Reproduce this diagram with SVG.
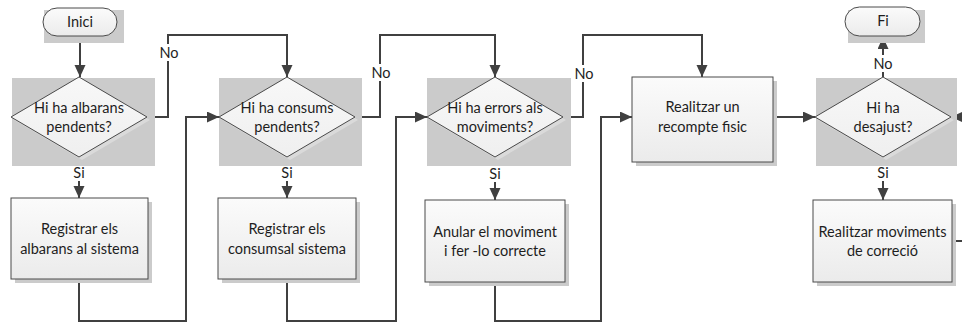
<svg xmlns="http://www.w3.org/2000/svg" width="962" height="323" viewBox="0 0 962 323">
  <defs>
    <linearGradient id="boxFill" x1="0" y1="0" x2="0" y2="1">
      <stop offset="0" stop-color="#fbfbfb"/>
      <stop offset="1" stop-color="#ebebeb"/>
    </linearGradient>
    <linearGradient id="decFill" x1="0" y1="0" x2="0" y2="1">
      <stop offset="0" stop-color="#f8f8f8"/>
      <stop offset="1" stop-color="#efefef"/>
    </linearGradient>
    <marker id="arrow" markerUnits="userSpaceOnUse" markerWidth="13" markerHeight="12" refX="12" refY="5.5" orient="auto">
      <path d="M0,0 L12,5.5 L0,11 Z" fill="#404040"/>
    </marker>
  </defs>
  <style>
    .shade { fill: #cbcbcb; }
    .dshade { fill: #dadada; }
    .box { fill: url(#boxFill); stroke: #4a4a4a; stroke-width: 1; }
    .dec { fill: url(#decFill); stroke: #4a4a4a; stroke-width: 1; }
    .term { fill: url(#boxFill); stroke: #4a4a4a; stroke-width: 1; }
    text { font-family: Lato, "Liberation Sans", sans-serif; font-size: 14.5px; fill: #1e1e1e; text-anchor: middle; }
    .conn { fill: none; stroke: #404040; stroke-width: 2; }
    .tag { fill: #ffffff; }
  </style>

  <rect width="962" height="323" fill="#ffffff"/>

  <!-- flow connectors -->
  <g id="connectors">
    <path class="conn" d="M80 36 V77" marker-end="url(#arrow)"/>
    <path class="conn" d="M147 117 H168 V35 H287 V77" marker-end="url(#arrow)"/>
    <path class="conn" d="M79 157 V198" marker-end="url(#arrow)"/>
    <path class="conn" d="M79 279 V321 H186 V117 H219" marker-end="url(#arrow)"/>
    <path class="conn" d="M355 117 H380 V35 H495 V77" marker-end="url(#arrow)"/>
    <path class="conn" d="M287 157 V198" marker-end="url(#arrow)"/>
    <path class="conn" d="M287 279 V321 H396 V117 H427" marker-end="url(#arrow)"/>
    <path class="conn" d="M563 117 H583 V35 H702 V77" marker-end="url(#arrow)"/>
    <path class="conn" d="M495 157 V200" marker-end="url(#arrow)"/>
    <path class="conn" d="M495 282 V321 H601 V117 H632" marker-end="url(#arrow)"/>
    <path class="conn" d="M773 117 H815" marker-end="url(#arrow)"/>
    <path class="conn" d="M883 77 V37" marker-end="url(#arrow)"/>
    <path class="conn" d="M883 157 V200" marker-end="url(#arrow)"/>
    <path class="conn" d="M952 241 H975 V117 H951" marker-end="url(#arrow)"/>

    <!-- branch labels -->
    <rect class="tag" x="158" y="44" width="21" height="17"/>
    <text x="169" y="58">No</text>
    <rect class="tag" x="370" y="64" width="21" height="17"/>
    <text x="381" y="78">No</text>
    <rect class="tag" x="573" y="65" width="21" height="17"/>
    <text x="584" y="79">No</text>
    <rect class="tag" x="872" y="55" width="22" height="17"/>
    <text x="883" y="69">No</text>
    <rect class="tag" x="71" y="164" width="17" height="17"/>
    <text x="79" y="178">Si</text>
    <rect class="tag" x="279" y="164" width="17" height="17"/>
    <text x="287" y="178">Si</text>
    <rect class="tag" x="487" y="165" width="17" height="17"/>
    <text x="495" y="179">Si</text>
    <rect class="tag" x="875" y="164" width="17" height="17"/>
    <text x="883" y="178">Si</text>
  </g>

  <g id="inici">
    <rect class="shade" x="44" y="10" width="80" height="33"/>
    <rect class="term" x="43" y="8" width="74" height="28" rx="14" ry="14"/>
    <text x="80" y="27">Inici</text>
  </g>

  <g id="fi">
    <rect class="shade" x="848" y="10" width="77" height="33"/>
    <rect class="term" x="845" y="7" width="75" height="29" rx="14.5" ry="14.5"/>
    <text x="883" y="26">Fi</text>
  </g>

  <g id="albarans-pendents">
    <rect class="shade" x="12" y="78" width="143" height="88"/>
    <polygon class="dshade" points="82,80 150,120 82,160 14,120"/>
    <polygon class="dec" points="79,77 147,117 79,157 11,117"/>
    <text x="79" y="113">Hi ha albarans</text>
    <text x="79" y="132">pendents?</text>
  </g>

  <g id="consums-pendents">
    <rect class="shade" x="219" y="78" width="143" height="88"/>
    <polygon class="dshade" points="290,80 358,120 290,160 222,120"/>
    <polygon class="dec" points="287,77 355,117 287,157 219,117"/>
    <text x="287" y="113">Hi ha consums</text>
    <text x="287" y="132">pendents?</text>
  </g>

  <g id="errors-moviments">
    <rect class="shade" x="427" y="78" width="144" height="88"/>
    <polygon class="dshade" points="498,80 566,120 498,160 430,120"/>
    <polygon class="dec" points="495,77 563,117 495,157 427,117"/>
    <text x="495" y="113">Hi ha errors als</text>
    <text x="495" y="132">moviments?</text>
  </g>

  <g id="desajust">
    <rect class="shade" x="816" y="78" width="141" height="88"/>
    <polygon class="dshade" points="886,80 954,120 886,160 818,120"/>
    <polygon class="dec" points="883,77 951,117 883,157 815,117"/>
    <text x="883" y="113">Hi ha</text>
    <text x="883" y="132">desajust?</text>
  </g>

  <g id="registrar-albarans">
    <rect class="shade" x="15" y="202" width="137" height="81"/>
    <rect class="box" x="11" y="198" width="137" height="81"/>
    <text x="79.5" y="234">Registrar els</text>
    <text x="79.5" y="254">albarans al sistema</text>
  </g>

  <g id="registrar-consums">
    <rect class="shade" x="222" y="202" width="138" height="81"/>
    <rect class="box" x="218" y="198" width="138" height="81"/>
    <text x="287" y="234">Registrar els</text>
    <text x="287" y="254">consumsal sistema</text>
  </g>

  <g id="anular-moviment">
    <rect class="shade" x="429" y="204" width="140" height="82"/>
    <rect class="box" x="425" y="200" width="140" height="82"/>
    <text x="495" y="237">Anular el moviment</text>
    <text x="495" y="256">i fer -lo correcte</text>
  </g>

  <g id="recompte-fisic">
    <rect class="shade" x="636" y="81" width="141" height="85"/>
    <rect class="box" x="632" y="77" width="141" height="85"/>
    <text x="702.5" y="112">Realitzar un</text>
    <text x="702.5" y="132">recompte fisic</text>
  </g>

  <g id="moviments-correcio">
    <rect class="shade" x="817" y="204" width="139" height="82"/>
    <rect class="box" x="813" y="200" width="139" height="82"/>
    <text x="882.5" y="237">Realitzar moviments</text>
    <text x="882.5" y="256">de correció</text>
  </g>
</svg>
